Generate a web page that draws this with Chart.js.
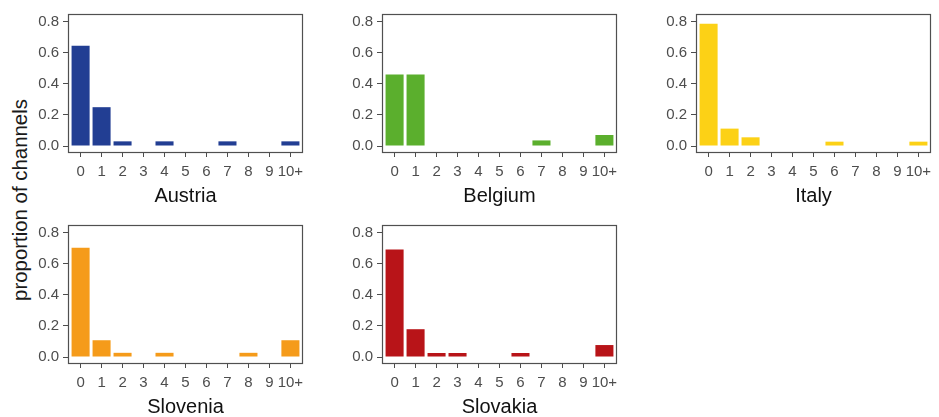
<!DOCTYPE html>
<html><head><meta charset="utf-8">
<script src="https://cdn.jsdelivr.net/npm/chart.js@4"></script>
<style>
html,body{margin:0;padding:0;background:#fff;width:939px;height:417px;overflow:hidden;position:relative;font-family:"Liberation Sans",Arial,sans-serif}
canvas{position:absolute}
#ytitle{position:absolute;left:20px;top:200px;transform:translate(-50%,-50%) rotate(-90deg);font-size:20.4px;white-space:nowrap;color:#1a1a1a}
</style></head><body>
<div id="ytitle">proportion of channels</div>
<script>
const categories = ['0','1','2','3','4','5','6','7','8','9','10+'];
const countries = ['Austria','Belgium','Italy','Slovenia','Slovakia'];
const austria  = [0.645,0.25,0.03,0,0.03,0,0,0.03,0,0,0.03];
const belgium  = [0.46,0.46,0,0,0,0,0,0.036,0,0,0.071];
const italy    = [0.787,0.112,0.056,0,0,0,0.028,0,0,0,0.028];
const slovenia = [0.703,0.108,0.027,0,0.027,0,0,0,0.027,0,0.108];
const slovakia = [0.692,0.179,0.026,0.026,0,0,0.026,0,0,0,0.077];
const yTicks = [0,0.2,0.4,0.6,0.8];

const seriesList = [austria, belgium, italy, slovenia, slovakia];
const colors = ['#223E93','#5BAF2D','#FCD116','#F59B1A','#B81418'];
const panels = [[68,14],[382,14],[696,14],[68,225],[382,225]];
const AREA_W = 235, AREA_H = 139, LEFT = 50, TOP = 12, RIGHT = 6, XH = 58;
const FONT = '"Liberation Sans", Arial, sans-serif';

const boxPlugin = {
  id: 'box',
  afterDraw(chart) {
    const {ctx, chartArea: a} = chart;
    ctx.save();
    ctx.strokeStyle = '#505050';
    ctx.lineWidth = 1.2;
    ctx.strokeRect(Math.round(a.left) + 0.5, Math.round(a.top) + 0.5,
                   Math.round(a.right - a.left) - 1, Math.round(a.bottom - a.top) - 1);
    ctx.restore();
  }
};

function noPad(s) { s.paddingLeft = 0; s.paddingRight = 0; s.paddingTop = 0; s.paddingBottom = 0; }

seriesList.forEach((vals, k) => {
  const [L, T] = panels[k];
  const cv = document.createElement('canvas');
  cv.width = LEFT + AREA_W + RIGHT;
  cv.height = TOP + AREA_H + XH;
  cv.style.left = (L - LEFT) + 'px';
  cv.style.top = (T - TOP) + 'px';
  cv.style.width = cv.width + 'px';
  cv.style.height = cv.height + 'px';
  document.body.appendChild(cv);
  new Chart(cv, {
    type: 'bar',
    data: {
      datasets: [{
        data: vals.map((v, i) => ({x: i, y: v})),
        backgroundColor: colors[k],
        borderWidth: 0,
        barPercentage: 0.86,
        categoryPercentage: 1
      }]
    },
    options: {
      responsive: false,
      animation: false,
      devicePixelRatio: 1,
      layout: {padding: {left: 0, top: TOP, right: RIGHT, bottom: 0}},
      plugins: {legend: {display: false}, tooltip: {enabled: false}},
      scales: {
        x: {
          type: 'linear', min: -0.6, max: 10.6, offset: false,
          afterBuildTicks: s => { s.ticks = categories.map((c, i) => ({value: i})); },
          afterFit: s => { s.height = XH; noPad(s); },
          ticks: {callback: v => categories[v] ?? '', color: '#4D4D4D', font: {family: FONT, size: 15}, padding: 6, maxRotation: 0, autoSkip: false},
          grid: {offset: false, drawOnChartArea: false, drawTicks: true, tickLength: 4, color: '#4D4D4D', lineWidth: 1},
          border: {display: false},
          title: {display: true, text: countries[k], color: '#111', font: {family: FONT, size: 20}, padding: {top: 0, bottom: 3}}
        },
        y: {
          type: 'linear', min: -0.045, max: 0.85,
          afterBuildTicks: s => { s.ticks = yTicks.map(v => ({value: v})); },
          afterFit: s => { s.width = LEFT; noPad(s); },
          ticks: {callback: v => Number(v).toFixed(1), color: '#4D4D4D', font: {family: FONT, size: 15}, padding: 4},
          grid: {drawOnChartArea: false, drawTicks: true, tickLength: 5, color: '#4D4D4D', lineWidth: 1},
          border: {display: false}
        }
      }
    },
    plugins: [boxPlugin]
  });
});
</script>
</body></html>
